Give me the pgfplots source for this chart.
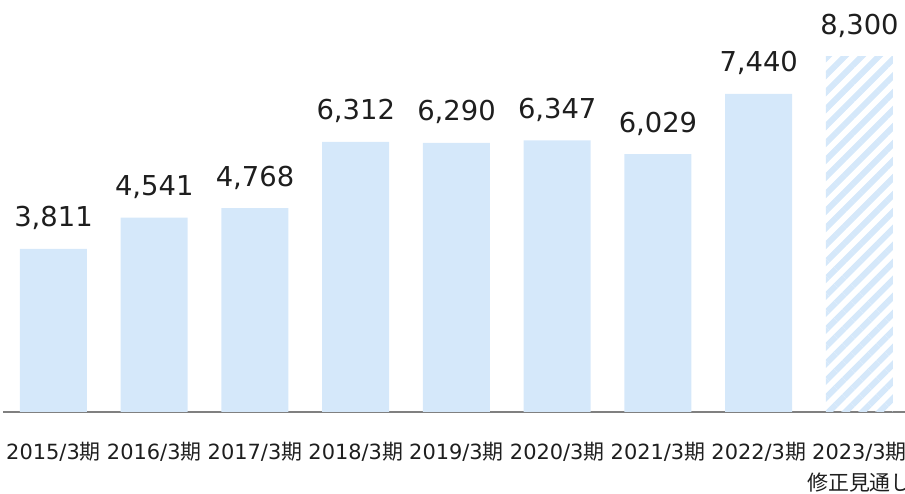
\documentclass[border=0pt]{standalone}
\usepackage{pgfplots}
\pgfplotsset{compat=1.18}
\usepackage{fontspec}
\setmainfont{DejaVu Sans}
\newfontfamily\cjk{Noto Sans CJK JP}
\usetikzlibrary{patterns.meta}
\definecolor{barblue}{HTML}{D5E8FA}
\definecolor{axisgrey}{HTML}{808080}
\definecolor{txt}{HTML}{1E1E1E}

\begin{document}
\begin{tikzpicture}
\begin{axis}[
  x=100.75bp, y=0.04277bp,
  xmin=-0.5, xmax=8.6, ymin=0, ymax=9633,
  enlargelimits=false,
  clip=false,
  axis y line=none,
  axis x line*=bottom,
  x axis line style={-, draw=axisgrey, line width=2.5bp},
  ybar, bar width=67bp, bar shift=0pt,
  xtick={0,...,8},
  xtick style={draw=none},
  ytick=\empty,
  xticklabels={
    2015/3{\cjk 期}, 2016/3{\cjk 期}, 2017/3{\cjk 期}, 2018/3{\cjk 期},
    2019/3{\cjk 期}, 2020/3{\cjk 期}, 2021/3{\cjk 期}, 2022/3{\cjk 期},
    {2023/3{\cjk 期}\\{\cjk 修正見通し}}},
  xticklabel style={font=\fontsize{21}{31}\selectfont, align=center,
    anchor=north, inner sep=0pt, yshift=-26bp, text=txt},
  nodes near coords,
  nodes near coords style={font=\fontsize{27.5}{33}\selectfont,
    anchor=base, yshift=22bp, text=txt,
    /pgf/number format/assume math mode=true},
]
\addplot[fill=barblue, draw=none] coordinates {
  (0,3811) (1,4541) (2,4768) (3,6312) (4,6290) (5,6347) (6,6029) (7,7440)};
\addplot[draw=none, pattern={Lines[angle=45,distance=12bp,line width=6bp]},
  pattern color=barblue] coordinates {(8,8300)};
\path (axis cs:-0.531,-1917) coordinate (bl);
\path (axis cs:8.452,9633) coordinate (tr);
\end{axis}
\pgfresetboundingbox
\path[use as bounding box] (bl) rectangle (tr);
\end{tikzpicture}
\end{document}
